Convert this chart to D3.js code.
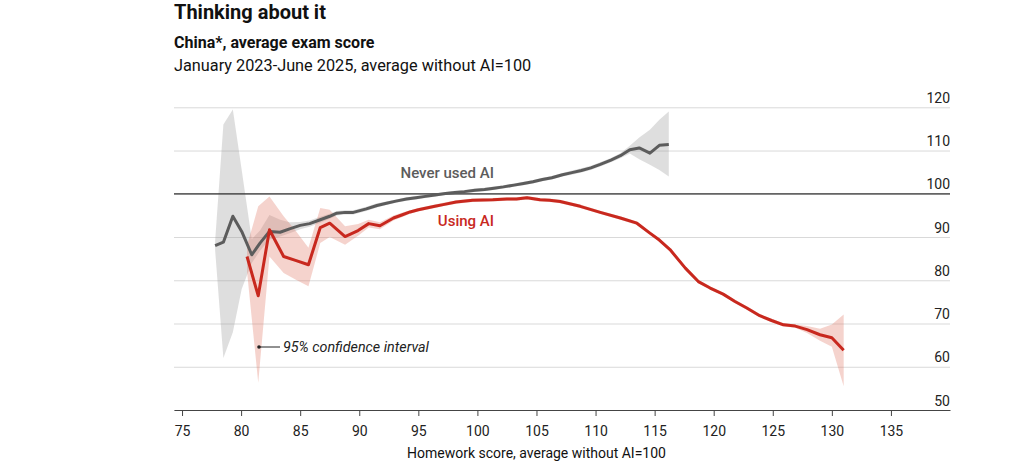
<!DOCTYPE html>
<html>
<head>
<meta charset="utf-8">
<script src="https://cdn.jsdelivr.net/npm/d3@7"></script>
<style>
  body { margin: 0; background: #fff; font-family: Roboto, "Noto Sans", sans-serif; }
  svg text { font-family: Roboto, "Noto Sans", sans-serif; }
</style>
</head>
<body>
<script>
// homework score (x) and exam score (y), "never used AI"
const neverX = [77.8, 78.5, 79.3, 80.05, 80.9, 81.6, 82.4, 83.3, 84.1, 85.0, 85.8, 86.7, 87.5, 88.1, 88.8, 89.5,
  90.6, 91.5, 92.3, 93.1, 94.0, 94.8, 95.6, 96.4, 97.3, 98.1, 98.9, 99.8, 100.6, 101.4, 102.2, 103.1, 103.9,
  104.7, 105.5, 106.3, 107.2, 108.0, 108.8, 109.6, 110.4, 111.3, 112.1, 112.9, 113.7, 114.6, 115.4, 116.2]
const neverY = [88.0, 88.8, 94.8, 91.3, 85.9, 88.6, 91.3, 91.1, 91.9, 92.7, 93.1, 94.0, 94.8, 95.5, 95.7, 95.7,
  96.5, 97.3, 97.8, 98.3, 98.8, 99.1, 99.4, 99.7, 100.05, 100.3, 100.5, 100.8, 101.0, 101.3, 101.6, 102.0, 102.4,
  102.8, 103.3, 103.7, 104.4, 104.9, 105.4, 106.0, 106.8, 107.8, 108.8, 110.2, 110.6, 109.4, 111.2, 111.4]
const neverLo = [87.0, 62.0, 68.0, 78.0, 84.0, 86.8, 89.4, 90.1, 90.9, 91.8, 92.4, 93.3, 94.2, 95.0, 95.2, 95.2,
  96.0, 96.8, 97.4, 97.9, 98.4, 98.7, 99.0, 99.3, 99.7, 99.9, 100.1, 100.4, 100.6, 100.9, 101.2, 101.6, 102.0,
  102.4, 102.9, 103.3, 104.0, 104.4, 104.9, 105.5, 106.3, 107.3, 108.2, 109.3, 108.0, 106.7, 105.5, 104.0]
const neverHi = [89.0, 116.0, 119.5, 105.5, 89.5, 91.5, 95.1, 94.0, 93.4, 93.5, 93.8, 94.7, 95.4, 96.0, 96.2, 96.2,
  97.0, 97.8, 98.2, 98.7, 99.2, 99.5, 99.8, 100.1, 100.4, 100.7, 100.9, 101.2, 101.4, 101.7, 102.0, 102.4, 102.8,
  103.2, 103.7, 104.1, 104.8, 105.4, 105.9, 106.5, 107.3, 108.3, 109.4, 111.1, 113.0, 114.8, 117.1, 119.0]

// "using AI"
const usingX = [80.5, 81.45, 82.4, 83.6, 84.6, 85.7, 86.7, 87.5, 88.8, 89.9, 90.8, 91.75, 92.9, 93.6, 94.3, 95.0,
  95.7, 96.4, 97.1, 98.2, 99.6, 100.5, 101.3, 102.5, 103.3, 104.2, 105.3, 106.1, 107.0, 108.7, 110.4, 112.1,
  113.5, 114.6, 115.4, 116.3, 117.6, 118.7, 119.7, 120.8, 121.8, 122.8, 123.9, 124.9, 125.9, 126.9, 127.9,
  129.0, 130.0, 131.0]
const usingY = [85.5, 76.4, 91.7, 85.5, 84.6, 83.6, 92.2, 93.2, 90.1, 91.5, 93.1, 92.6, 94.4, 95.1, 95.8, 96.3,
  96.7, 97.1, 97.5, 98.1, 98.5, 98.55, 98.6, 98.8, 98.8, 99.1, 98.6, 98.5, 98.2, 97.1, 95.7, 94.4,
  93.2, 90.9, 89.3, 87.1, 82.8, 79.7, 78.2, 76.8, 75.1, 73.6, 71.8, 70.7, 69.7, 69.4, 68.6,
  67.4, 66.7, 63.8]
const usingLo = [82.0, 56.3, 85.5, 81.7, 80.2, 78.6, 88.6, 90.0, 88.2, 90.3, 92.2, 91.8, 93.8, 94.6, 95.4, 95.9,
  96.3, 96.7, 97.1, 97.7, 98.1, 98.15, 98.2, 98.4, 98.4, 98.7, 98.2, 98.1, 97.8, 96.7, 95.3, 94.0,
  92.8, 90.5, 88.9, 86.7, 82.4, 79.3, 77.8, 76.4, 74.7, 73.2, 71.4, 70.3, 69.3, 69.0, 67.8,
  66.0, 64.6, 55.5]
const usingHi = [88.0, 97.1, 99.4, 94.8, 91.5, 87.5, 96.7, 96.3, 92.5, 93.0, 94.0, 93.4, 95.0, 95.6, 96.2, 96.7,
  97.1, 97.5, 97.9, 98.5, 98.9, 98.95, 99.0, 99.2, 99.2, 99.5, 99.0, 98.9, 98.6, 97.5, 96.1, 94.8,
  93.6, 91.3, 89.7, 87.5, 83.2, 80.1, 78.6, 77.2, 75.5, 74.0, 72.2, 71.1, 70.1, 69.8, 69.4,
  68.8, 69.8, 72.1]

const xTicks = [75, 80, 85, 90, 95, 100, 105, 110, 115, 120, 125, 130, 135]
const yTicks = [50, 60, 70, 80, 90, 100, 110, 120]

const width = 1024, height = 474

let svg = d3.select('body').append('svg')
    .attr('width', width)
    .attr('height', height)

// scales
let x = d3.scaleLinear().domain([74.32, 140]).range([174, 950])
let y = d3.scaleLinear().domain([50, 120]).range([410, 107.3])

// titles
svg.append('text').attr('x', 174).attr('y', 18.5)
    .attr('font-size', 20).attr('font-weight', 700).attr('fill', '#111')
    .text('Thinking about it')
svg.append('text').attr('x', 174).attr('y', 48)
    .attr('font-size', 16).attr('font-weight', 700).attr('fill', '#111')
    .text('China*, average exam score')
svg.append('text').attr('x', 174).attr('y', 71)
    .attr('font-size', 16.3).attr('fill', '#111')
    .text('January 2023-June 2025, average without AI=100')

// gridlines + y labels
let yAxis = d3.axisLeft(y).tickValues(yTicks).tickSize(950 - 174).tickFormat(d3.format('d'))
let gy = svg.append('g').attr('transform', 'translate(950,0)').call(yAxis)
gy.select('.domain').remove()
gy.selectAll('.tick line').attr('stroke', '#d9d9d9').attr('stroke-width', 1)
gy.selectAll('.tick text')
    .attr('x', 0).attr('dy', -5).attr('text-anchor', 'end')
    .attr('font-size', 14).attr('fill', '#222')

// confidence bands
let area = function(xs, lo, hi) {
  return d3.area()
    .x(function(d, i) { return x(xs[i]) })
    .y0(function(d, i) { return y(lo[i]) })
    .y1(function(d, i) { return y(hi[i]) })(xs)
}
svg.append('path').attr('d', area(neverX, neverLo, neverHi))
    .attr('fill', '#9a9a9a').attr('fill-opacity', 0.33)
svg.append('path').attr('d', area(usingX, usingLo, usingHi))
    .attr('fill', '#e07a66').attr('fill-opacity', 0.33)

// reference line at 100
svg.append('line')
    .attr('x1', 174).attr('x2', 950)
    .attr('y1', y(100)).attr('y2', y(100))
    .attr('stroke', '#333').attr('stroke-width', 1.2)

// x axis
let xAxis = d3.axisBottom(x).tickValues(xTicks).tickSize(6).tickSizeOuter(0)
let gx = svg.append('g').attr('transform', 'translate(0,' + y(50) + ')').call(xAxis)
gx.select('.domain').attr('stroke', '#444')
gx.selectAll('.tick line').attr('stroke', '#444')
gx.selectAll('.tick text').attr('font-size', 14).attr('fill', '#222').attr('dy', '1.2em')

svg.append('text')
    .attr('x', x(105)).attr('y', 458)
    .attr('text-anchor', 'middle').attr('font-size', 14).attr('fill', '#111')
    .text('Homework score, average without AI=100')

// lines
let line = function(xs, ys) {
  return d3.line()
    .x(function(d, i) { return x(xs[i]) })
    .y(function(d, i) { return y(ys[i]) })(xs)
}
svg.append('path').attr('d', line(neverX, neverY))
    .attr('fill', 'none').attr('stroke', '#5c5c5c').attr('stroke-width', 3)
    .attr('stroke-linejoin', 'round')
svg.append('path').attr('d', line(usingX, usingY))
    .attr('fill', 'none').attr('stroke', '#c8281e').attr('stroke-width', 3)
    .attr('stroke-linejoin', 'round')

// labels
svg.append('text').attr('x', 494).attr('y', 178)
    .attr('text-anchor', 'end').attr('font-size', 15).attr('font-weight', 500).attr('fill', '#5c5c5c')
    .text('Never used AI')
svg.append('text').attr('x', 494).attr('y', 226)
    .attr('text-anchor', 'end').attr('font-size', 15).attr('font-weight', 500).attr('fill', '#c8281e')
    .text('Using AI')

// confidence interval annotation
svg.append('circle').attr('cx', 259).attr('cy', 347).attr('r', 1.8).attr('fill', '#222')
svg.append('line').attr('x1', 259).attr('x2', 280).attr('y1', 347).attr('y2', 347)
    .attr('stroke', '#222').attr('stroke-width', 1)
svg.append('text').attr('x', 283).attr('y', 352)
    .attr('font-size', 14.3).attr('font-style', 'italic').attr('fill', '#222')
    .text('95% confidence interval')
</script>
</body>
</html>
